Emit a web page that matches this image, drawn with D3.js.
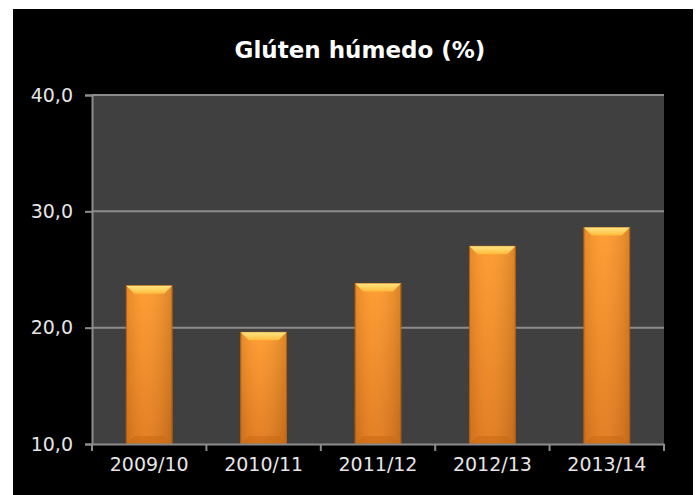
<!DOCTYPE html>
<html>
<head>
<meta charset="utf-8">
<script src="https://cdn.jsdelivr.net/npm/d3@7"></script>
<style>
  body { margin: 0; background: #ffffff; }
  text { font-family: "DejaVu Sans", sans-serif; }
</style>
</head>
<body>
<div id="chart"></div>
<script>
// Data
const seasons = ["2009/10", "2010/11", "2011/12", "2012/13", "2013/14"];
const gluten = [23.6, 19.6, 23.8, 27.0, 28.6];
const yTicks = [10, 20, 30, 40];

const width = 698, height = 495;
const margin = {top: 95, right: 34, bottom: 51, left: 92};

const svg = d3.select("#chart")
    .append("svg")
    .attr("width", width)
    .attr("height", height);

// black chart area
svg.append("rect")
    .attr("x", 13).attr("y", 9)
    .attr("width", 680).attr("height", height - 9)
    .attr("fill", "#000");

const x = d3.scaleBand()
    .domain(seasons)
    .range([margin.left, width - margin.right])
    .paddingInner(0.6)
    .paddingOuter(0.3);

const y = d3.scaleLinear()
    .domain([10, 40])
    .range([height - margin.bottom, margin.top]);

// gradients
const defs = svg.append("defs");
const body = defs.append("linearGradient").attr("id", "bodyGrad")
    .attr("x1", 0).attr("y1", 0).attr("x2", 0).attr("y2", 1);
body.append("stop").attr("offset", "0%").attr("stop-color", "#ff9a2c");
body.append("stop").attr("offset", "100%").attr("stop-color", "#e27a1c");
const side = defs.append("linearGradient").attr("id", "sideGrad")
    .attr("x1", 0).attr("y1", 0).attr("x2", 1).attr("y2", 0);
side.append("stop").attr("offset", "0%").attr("stop-color", "#000").attr("stop-opacity", 0.1);
side.append("stop").attr("offset", "40%").attr("stop-color", "#fff").attr("stop-opacity", 0.04);
side.append("stop").attr("offset", "100%").attr("stop-color", "#000").attr("stop-opacity", 0.14);
const topG = defs.append("linearGradient").attr("id", "topGrad")
    .attr("x1", 0).attr("y1", 0).attr("x2", 0).attr("y2", 1);
topG.append("stop").attr("offset", "0%").attr("stop-color", "#ffe684");
topG.append("stop").attr("offset", "100%").attr("stop-color", "#ffba3a");

// plot background
svg.append("rect")
    .attr("x", margin.left).attr("y", margin.top)
    .attr("width", width - margin.left - margin.right)
    .attr("height", height - margin.top - margin.bottom)
    .attr("fill", "#404040");

// gridlines
svg.append("g")
    .selectAll("line")
    .data(yTicks.slice(1))
    .enter()
    .append("line")
    .attr("x1", margin.left).attr("x2", width - margin.right)
    .attr("y1", d => y(d)).attr("y2", d => y(d))
    .attr("stroke", "#8c8c8c").attr("stroke-width", 2);

// bars
const bev = 8;
const bars = svg.append("g").selectAll("g")
    .data(seasons)
    .enter()
    .append("g");

bars.append("rect")
    .attr("x", d => x(d))
    .attr("y", (d, i) => y(gluten[i]))
    .attr("width", x.bandwidth())
    .attr("height", (d, i) => y(10) - y(gluten[i]))
    .attr("fill", "url(#bodyGrad)")
    .attr("stroke", "#c2640f").attr("stroke-width", 1);

bars.append("rect")
    .attr("x", d => x(d))
    .attr("y", (d, i) => y(gluten[i]))
    .attr("width", x.bandwidth())
    .attr("height", (d, i) => y(10) - y(gluten[i]))
    .attr("fill", "url(#sideGrad)");

// top bevel
bars.append("polygon")
    .attr("points", (d, i) => {
        const x0 = x(d), x1 = x(d) + x.bandwidth(), t = y(gluten[i]);
        return [[x0, t], [x1, t], [x1 - bev, t + bev], [x0 + bev, t + bev]].join(" ");
    })
    .attr("fill", "url(#topGrad)");

// bottom bevel
bars.append("polygon")
    .attr("points", d => {
        const x0 = x(d), x1 = x(d) + x.bandwidth(), b = y(10);
        return [[x0, b], [x1, b], [x1 - bev, b - bev], [x0 + bev, b - bev]].join(" ");
    })
    .attr("fill", "#c86a14").attr("opacity", 0.55);

// y axis
svg.append("g")
    .attr("transform", `translate(${margin.left},0)`)
    .call(d3.axisLeft(y).tickValues(yTicks).tickSize(7).tickPadding(12)
        .tickFormat(d => d3.format(".1f")(d).replace(".", ",")))
    .call(g => g.selectAll("line, path").attr("stroke", "#8c8c8c").attr("stroke-width", 2))
    .call(g => g.selectAll("text").attr("fill", "#e6e6e6").attr("font-size", "19px"));

// x axis
const xAxis = svg.append("g")
    .attr("transform", `translate(0,${height - margin.bottom})`)
    .call(d3.axisBottom(x).tickSize(0).tickPadding(14))
    .call(g => g.select("path").attr("stroke", "#8c8c8c").attr("stroke-width", 2))
    .call(g => g.selectAll("text").attr("fill", "#e6e6e6").attr("font-size", "19px"));

// category separators on the x axis
const step = x.step();
xAxis.selectAll(".sep")
    .data(d3.range(seasons.length + 1))
    .enter()
    .append("line")
    .attr("x1", i => margin.left + i * step).attr("x2", i => margin.left + i * step)
    .attr("y1", 0).attr("y2", 7)
    .attr("stroke", "#8c8c8c").attr("stroke-width", 2);

// title
svg.append("text")
    .attr("x", 360).attr("y", 58)
    .attr("text-anchor", "middle")
    .attr("fill", "#fff")
    .attr("font-size", "23px")
    .attr("font-weight", "bold")
    .text("Glúten húmedo (%)");
</script>
</body>
</html>
